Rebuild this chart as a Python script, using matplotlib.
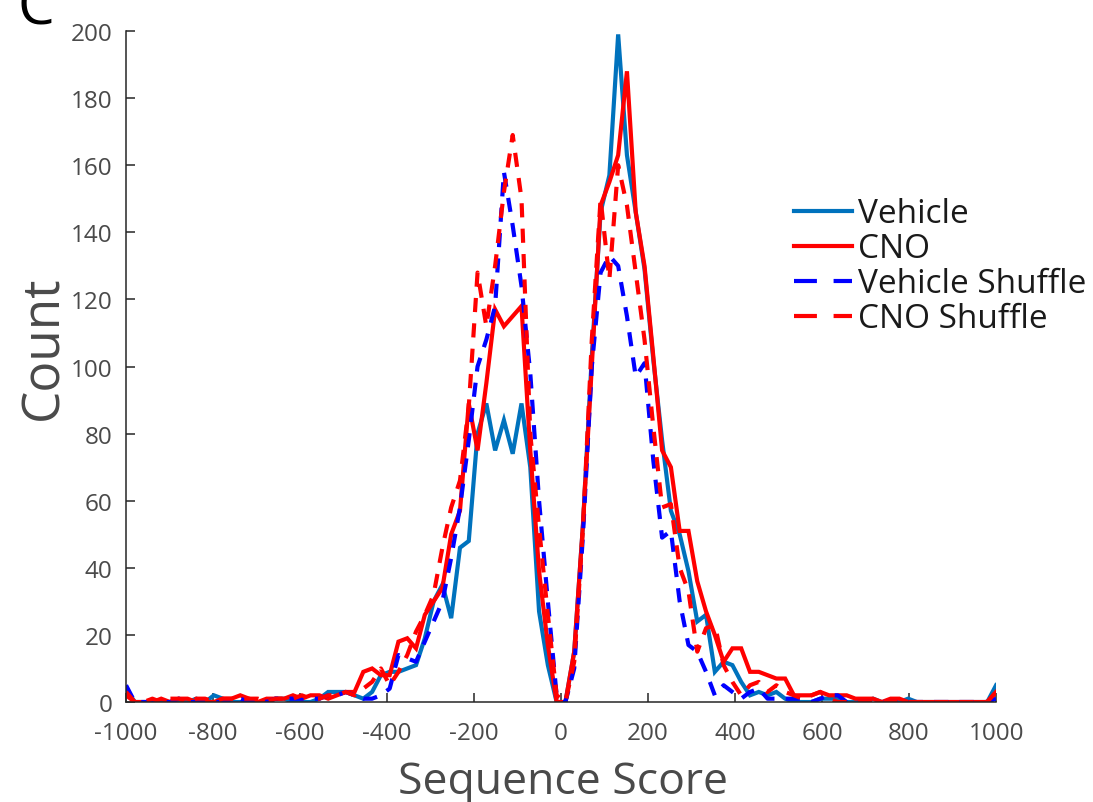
import numpy as np
import matplotlib
matplotlib.use("Agg")
import matplotlib.pyplot as plt
from matplotlib.lines import Line2D

plt.rcParams["font.family"] = ["Open Sans", "DejaVu Sans"]
plt.rcParams["axes.unicode_minus"] = False

# Sequence-score histogram: 100 bins spread evenly over [-1000, 1000]
score = np.linspace(-1000, 1000, 100)

vehicle = [
    4, 0, 0, 0, 0, 0, 0, 0, 1, 0,
    2, 1, 0, 0, 0, 0, 0, 1, 1, 0,
    0, 0, 1, 3, 3, 3, 2, 1, 3, 8,
    9, 9, 10, 11, 19, 30, 35, 25, 46, 48,
    80, 89, 75, 84, 74, 89, 70, 27, 11, 0,
    0, 15, 53, 103, 146, 157, 199, 163, 146, 129,
    102, 78, 57, 50, 39, 24, 26, 9, 12, 11,
    6, 2, 3, 2, 3, 1, 0, 0, 0, 1,
    1, 1, 0, 0, 0, 1, 0, 0, 0, 1,
    0, 0, 0, 0, 0, 0, 0, 0, 0, 5,
]

cno = [
    2, 0, 0, 0, 1, 0, 1, 1, 0, 0,
    0, 1, 1, 2, 1, 0, 1, 1, 1, 2,
    1, 2, 2, 1, 2, 3, 3, 9, 10, 8,
    8, 18, 19, 16, 26, 30, 34, 50, 57, 89,
    75, 95, 117, 112, 115, 118, 75, 39, 17, 0,
    0, 15, 53, 100, 148, 155, 163, 188, 146, 130,
    103, 75, 70, 51, 51, 36, 27, 20, 12, 16,
    16, 9, 9, 8, 7, 7, 2, 2, 2, 3,
    2, 2, 2, 1, 1, 1, 0, 1, 1, 0,
    0, 0, 0, 0, 0, 0, 0, 0, 0, 3,
]

vehicle_shuffle = [
    5, 0, 0, 0, 0, 0, 1, 0, 0, 0,
    0, 0, 0, 1, 0, 1, 0, 1, 1, 1,
    1, 1, 1, 2, 2, 3, 2, 1, 1, 2,
    4, 14, 13, 12, 18, 24, 30, 43, 58, 78,
    100, 108, 118, 158, 142, 124, 98, 60, 30, 2,
    0, 10, 50, 100, 128, 133, 130, 115, 97, 101,
    72, 49, 51, 30, 17, 15, 9, 2, 5, 3,
    1, 3, 4, 1, 1, 1, 1, 1, 0, 1,
    2, 2, 0, 0, 0, 0, 0, 0, 0, 0,
    0, 0, 0, 0, 0, 0, 0, 0, 0, 1,
]

cno_shuffle = [
    3, 0, 0, 1, 0, 1, 1, 0, 1, 1,
    0, 1, 1, 1, 1, 1, 0, 1, 1, 1,
    2, 1, 1, 2, 2, 3, 2, 4, 6, 10,
    5, 9, 14, 21, 26, 32, 46, 58, 66, 88,
    128, 112, 130, 152, 169, 150, 80, 52, 26, 2,
    0, 12, 52, 108, 150, 126, 160, 148, 128, 108,
    82, 58, 59, 40, 33, 15, 22, 23, 11, 6,
    2, 5, 6, 3, 5, 3, 2, 1, 2, 3,
    1, 0, 0, 0, 0, 0, 0, 0, 0, 0,
    0, 0, 0, 0, 0, 0, 0, 0, 0, 3,
]

series_names = ["Vehicle", "CNO", "Vehicle Shuffle", "CNO Shuffle"]
x_ticks = [-1000, -800, -600, -400, -200, 0, 200, 400, 600, 800, 1000]
y_ticks = [0, 20, 40, 60, 80, 100, 120, 140, 160, 180, 200]

axis_col = "#262626"
text_col = "#4a4a4a"
lw = 3.0
dash = (3.4, 2.7)

W, H = 1093, 803
fig = plt.figure(figsize=(W / 100, H / 100), dpi=100)
ax = fig.add_axes([0.1153, 0.1245, 0.796, 0.8356])

ax.plot(score, vehicle, color="#0072BD", lw=lw, solid_joinstyle="miter")
ax.plot(score, cno, color="#FF0000", lw=lw, solid_joinstyle="miter")
ax.plot(score, vehicle_shuffle, color="#0000FF", lw=lw, ls=(0, dash))
ax.plot(score, cno_shuffle, color="#FF0000", lw=lw, ls=(0, dash))

ax.set_xlim(-1000, 1000)
ax.set_ylim(0, 200)
ax.set_xticks(x_ticks)
ax.set_yticks(y_ticks)
ax.set_xticklabels([str(v) for v in x_ticks])
ax.set_yticklabels([str(v) for v in y_ticks])

for side in ("top", "right"):
    ax.spines[side].set_visible(False)
for side in ("left", "bottom"):
    ax.spines[side].set_color(axis_col)
    ax.spines[side].set_linewidth(1.1)

ax.tick_params(axis="both", direction="in", length=6.3, width=1.1,
               color=axis_col, labelcolor=text_col, labelsize=17.5)
ax.tick_params(axis="x", pad=14)
ax.tick_params(axis="y", pad=10)

# Axis titles placed in figure pixels
fig.text(563 / W, 1 - 794 / H, "Sequence Score", fontsize=32, color=text_col,
         ha="center", va="baseline")
fig.text(57 / W, 1 - 348 / H, "Count", fontsize=37, color=text_col,
         rotation=90, rotation_mode="anchor", ha="center", va="baseline")

# Legend with custom handles so the dashed entries show two long dashes
leg_dash = (5.5, 4.0)
handles = [
    Line2D([], [], color="#0072BD", lw=lw),
    Line2D([], [], color="#FF0000", lw=lw),
    Line2D([], [], color="#0000FF", lw=lw, ls=(0, leg_dash)),
    Line2D([], [], color="#FF0000", lw=lw, ls=(0, leg_dash)),
]
leg = ax.legend(handles, series_names, loc="upper left",
                bbox_to_anchor=(0.749, 0.777), frameon=False,
                fontsize=24, handlelength=1.72, handletextpad=0.2,
                labelspacing=0.06, borderpad=0.0)
for t in leg.get_texts():
    t.set_color("#1a1a1a")

# Panel letter
fig.text(0.016, 0.969, "C", fontsize=42, color="black", va="baseline", ha="left")

fig.savefig("out.png", dpi=100)
